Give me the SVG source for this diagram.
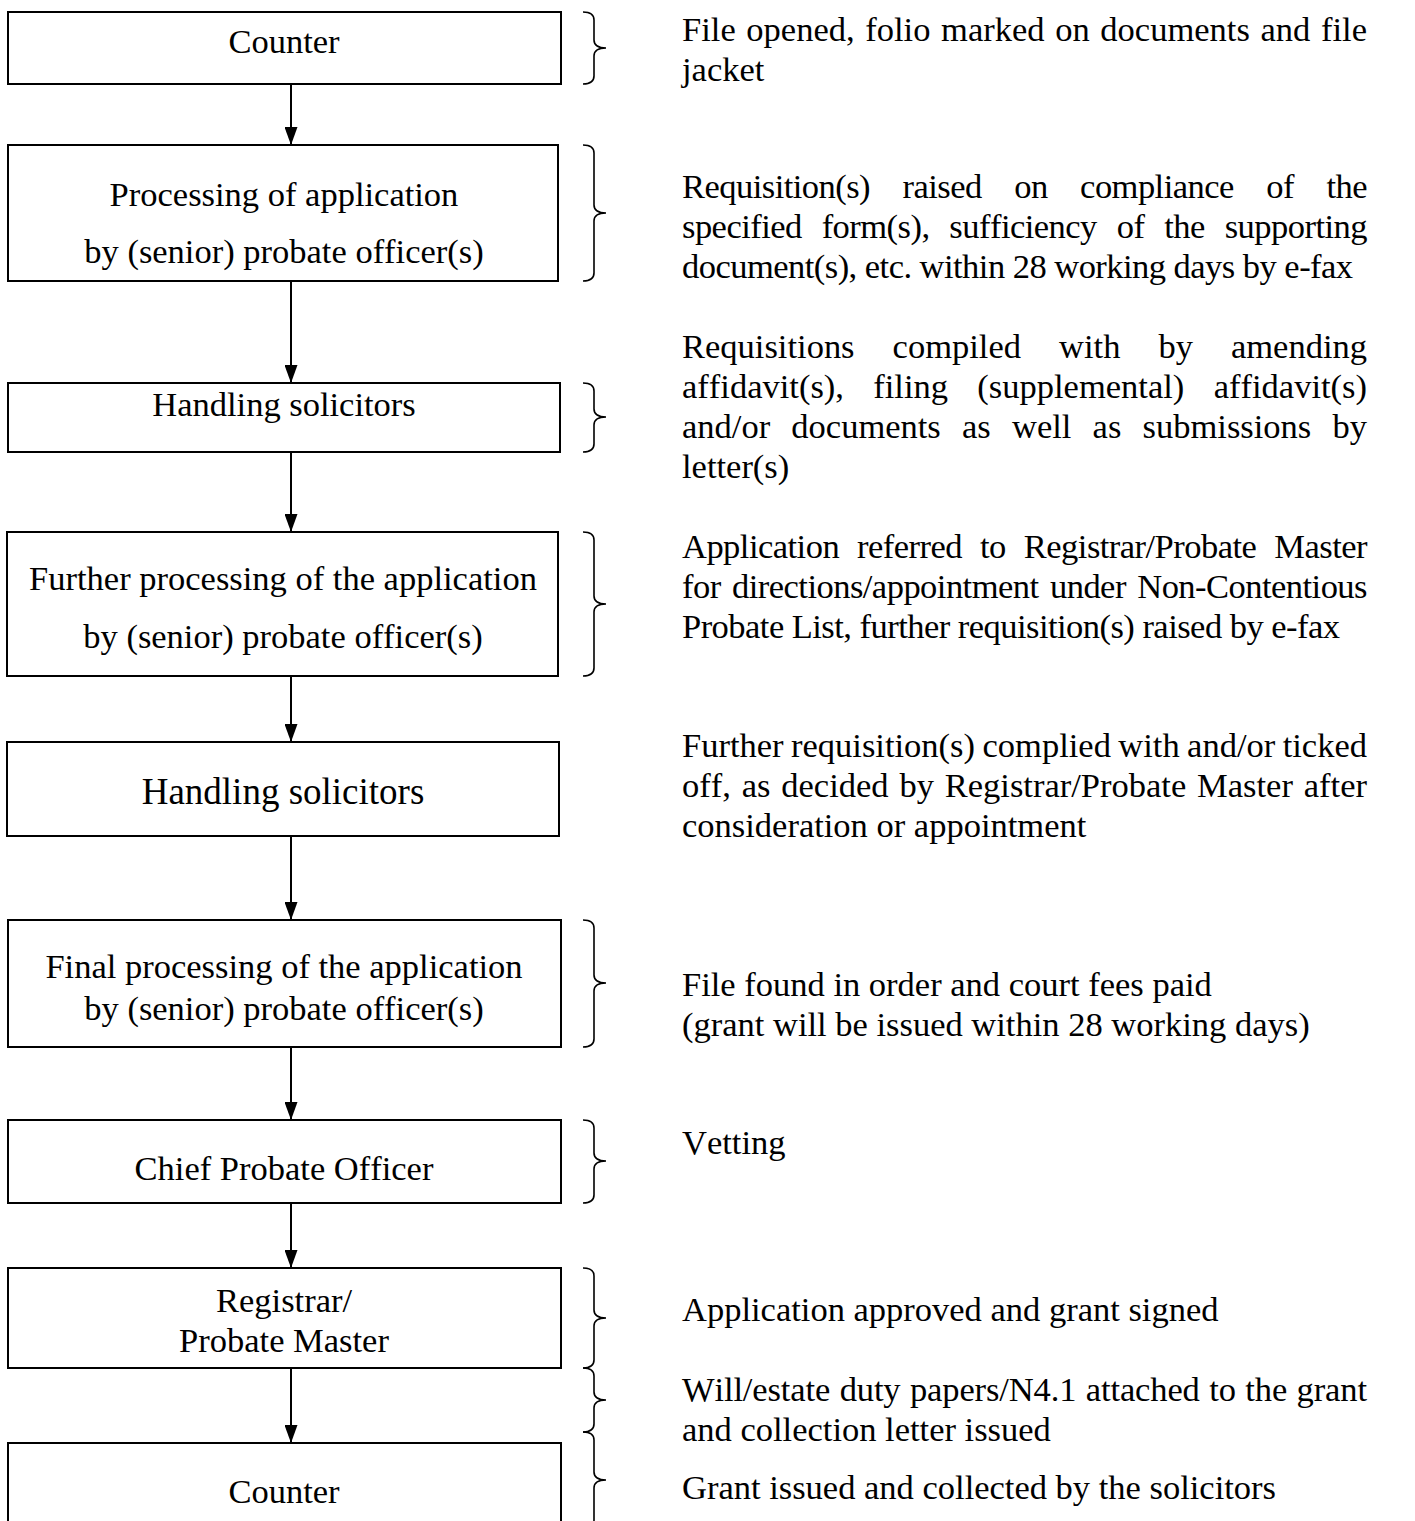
<svg xmlns="http://www.w3.org/2000/svg" width="1415" height="1521" viewBox="0 0 1415 1521">
<defs>
<style>
.box{fill:#fff;stroke:#000;stroke-width:2}
.t{font-family:"Liberation Serif","Times New Roman",serif;font-size:34.5px;fill:#000;font-kerning:none;font-variant-ligatures:none}
.c{text-anchor:middle}
.big{font-size:37px}
.cond{letter-spacing:-0.53px}
.edge{fill:none;stroke:#000;stroke-width:2}
.brace{fill:none;stroke:#000;stroke-width:1.6}
</style>
<marker id="ah" markerWidth="18" markerHeight="13" refX="18" refY="6.5" orient="auto" markerUnits="userSpaceOnUse" viewBox="0 0 18 13">
<path d="M0,0 L18,6.5 L0,13 Z" fill="#000"/>
</marker>
</defs>
<rect width="1415" height="1521" fill="#fff"/>

<g id="n1"><rect class="box" x="8" y="12" width="553" height="72"/><text class="t c" x="284" y="53">Counter</text></g>
<g id="n2"><rect class="box" x="8" y="145" width="550" height="136"/><text class="t c" x="284" y="206">Processing of application</text><text class="t c" x="284" y="263">by (senior) probate officer(s)</text></g>
<g id="n3"><rect class="box" x="8" y="383" width="552" height="69"/><text class="t c" x="284" y="416">Handling solicitors</text></g>
<g id="n4"><rect class="box" x="7" y="532" width="551" height="144"/><text class="t c" x="283" y="590">Further processing of the application</text><text class="t c" x="283" y="648">by (senior) probate officer(s)</text></g>
<g id="n5"><rect class="box" x="7" y="742" width="552" height="94"/><text class="t c big" x="283" y="804">Handling solicitors</text></g>
<g id="n6"><rect class="box" x="8" y="920" width="553" height="127"/><text class="t c" x="284" y="978">Final processing of the application</text><text class="t c" x="284" y="1020">by (senior) probate officer(s)</text></g>
<g id="n7"><rect class="box" x="8" y="1120" width="553" height="83"/><text class="t c" x="284" y="1180">Chief Probate Officer</text></g>
<g id="n8"><rect class="box" x="8" y="1268" width="553" height="100"/><text class="t c" x="284" y="1312">Registrar/</text><text class="t c" x="284" y="1352">Probate Master</text></g>
<g id="n9"><rect class="box" x="8" y="1443" width="553" height="100"/><text class="t c" x="284" y="1503">Counter</text></g>

<g id="connectors">
<line class="edge" x1="291" y1="84" x2="291" y2="145" marker-end="url(#ah)"/>
<line class="edge" x1="291" y1="281" x2="291" y2="383" marker-end="url(#ah)"/>
<line class="edge" x1="291" y1="452" x2="291" y2="532" marker-end="url(#ah)"/>
<line class="edge" x1="291" y1="676" x2="291" y2="742" marker-end="url(#ah)"/>
<line class="edge" x1="291" y1="836" x2="291" y2="920" marker-end="url(#ah)"/>
<line class="edge" x1="291" y1="1047" x2="291" y2="1120" marker-end="url(#ah)"/>
<line class="edge" x1="291" y1="1203" x2="291" y2="1268" marker-end="url(#ah)"/>
<line class="edge" x1="291" y1="1368" x2="291" y2="1443" marker-end="url(#ah)"/>
</g>

<g id="braces">
<path class="brace" d="M583,12 Q594,12 594,20 L594,40 Q594,48 606,48 Q594,48 594,56 L594,76 Q594,84 583,84"/>
<path class="brace" d="M583,145 Q594,145 594,153 L594,205 Q594,213 606,213 Q594,213 594,221 L594,273 Q594,281 583,281"/>
<path class="brace" d="M583,383 Q594,383 594,391 L594,409 Q594,417 606,417 Q594,417 594,425 L594,444 Q594,452 583,452"/>
<path class="brace" d="M583,532 Q594,532 594,540 L594,596 Q594,604 606,604 Q594,604 594,612 L594,668 Q594,676 583,676"/>
<path class="brace" d="M583,920 Q594,920 594,928 L594,975 Q594,983 606,983 Q594,983 594,991 L594,1039 Q594,1047 583,1047"/>
<path class="brace" d="M583,1120 Q594,1120 594,1128 L594,1153 Q594,1161 606,1161 Q594,1161 594,1169 L594,1195 Q594,1203 583,1203"/>
<path class="brace" d="M583,1268 Q594,1268 594,1276 L594,1310 Q594,1318 606,1318 Q594,1318 594,1326 L594,1360 Q594,1368 583,1368"/>
<path class="brace" d="M583,1368 Q594,1368 594,1376 L594,1392 Q594,1400 606,1400 Q594,1400 594,1408 L594,1424 Q594,1432 583,1432"/>
<path class="brace" d="M583,1432 Q594,1432 594,1440 L594,1472 Q594,1480 606,1480 Q594,1480 594,1488 L594,1520 Q594,1528 583,1528"/>
</g>

<g id="notes">
<text class="t" x="682" y="41" word-spacing="2" textLength="685" lengthAdjust="spacing">File opened, folio marked on documents and file</text>
<text class="t" x="682" y="81">jacket</text>

<text class="t cond" x="682" y="198" word-spacing="24.4" textLength="685" lengthAdjust="spacing">Requisition(s) raised on compliance of the</text>
<text class="t cond" x="682" y="238" word-spacing="11.8" textLength="685" lengthAdjust="spacing">specified form(s), sufficiency of the supporting</text>
<text class="t cond" x="682" y="278">document(s), etc. within 28 working days by e-fax</text>

<text class="t" x="682" y="358" word-spacing="29.4" textLength="685" lengthAdjust="spacing">Requisitions compiled with by amending</text>
<text class="t" x="682" y="398" word-spacing="20.7" textLength="685" lengthAdjust="spacing">affidavit(s), filing (supplemental) affidavit(s)</text>
<text class="t" x="682" y="438" word-spacing="12.6" textLength="685" lengthAdjust="spacing">and/or documents as well as submissions by</text>
<text class="t" x="682" y="478">letter(s)</text>

<text class="t cond" x="682" y="558" word-spacing="9.9" textLength="685" lengthAdjust="spacing">Application referred to Registrar/Probate Master</text>
<text class="t cond" x="682" y="598" word-spacing="3.3" textLength="685" lengthAdjust="spacing">for directions/appointment under Non-Contentious</text>
<text class="t cond" x="682" y="638">Probate List, further requisition(s) raised by e-fax</text>

<text class="t" x="682" y="757" word-spacing="-1.2" textLength="685" lengthAdjust="spacing">Further requisition(s) complied with and/or ticked</text>
<text class="t" x="682" y="797" word-spacing="2.2" textLength="685" lengthAdjust="spacing">off, as decided by Registrar/Probate Master after</text>
<text class="t" x="682" y="837">consideration or appointment</text>

<text class="t" x="682" y="996">File found in order and court fees paid</text>
<text class="t" x="682" y="1036">(grant will be issued within 28 working days)</text>

<text class="t" x="682" y="1154">Vetting</text>

<text class="t" x="682" y="1321">Application approved and grant signed</text>

<text class="t" x="682" y="1401" word-spacing="1" textLength="685" lengthAdjust="spacing">Will/estate duty papers/N4.1 attached to the grant</text>
<text class="t" x="682" y="1441">and collection letter issued</text>

<text class="t" x="682" y="1499">Grant issued and collected by the solicitors</text>
</g>
</svg>
